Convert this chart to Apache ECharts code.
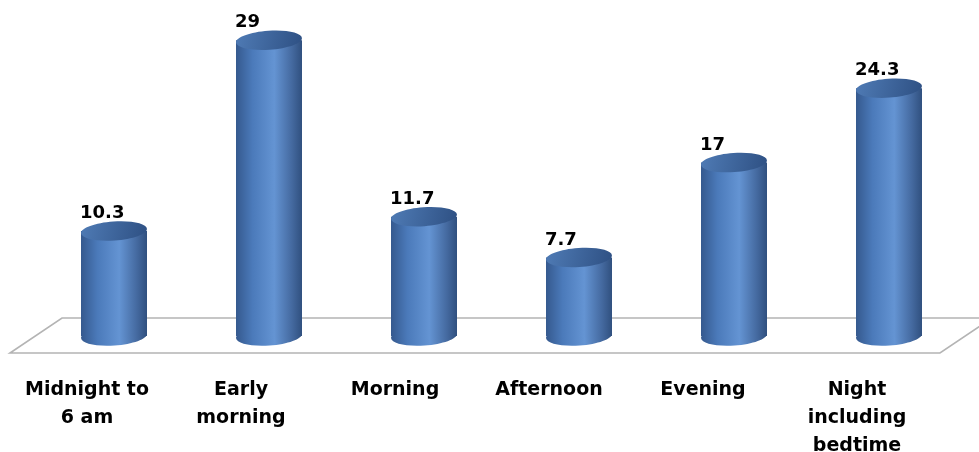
<!DOCTYPE html>
<html>
<head>
<meta charset="utf-8">
<style>
  html, body { margin: 0; padding: 0; background: #ffffff; }
  #chart { width: 979px; height: 452px; }
</style>
<script src="https://cdn.jsdelivr.net/npm/echarts@6/dist/echarts.min.js"></script>
</head>
<body>
<div id="chart"></div>
<script>
// Time of day periods and share (%) for each
const categories = ['Midnight to\n6 am', 'Early\nmorning', 'Morning', 'Afternoon', 'Evening', 'Night\nincluding\nbedtime'];
const values = [10.3, 29, 11.7, 7.7, 17, 24.3];

const chart = echarts.init(document.getElementById('chart'), null, { renderer: 'canvas' });

const FONT = '"DejaVu Sans", Verdana, sans-serif';
const BAR_W = 66;      // cylinder width in px
const CAP_RY = 9.5;    // half height of the elliptical caps
const SHIFT = 27;      // cylinders sit back on the floor, right of the label
const SPREAD = 1;      // slight perspective spread of the cylinders

const bodyFill = new echarts.graphic.LinearGradient(0, 0, 1, 0, [
  { offset: 0, color: '#35598e' },
  { offset: 0.25, color: '#4b7aba' },
  { offset: 0.58, color: '#6494d3' },
  { offset: 0.85, color: '#44699f' },
  { offset: 1, color: '#30507f' }
]);
const capFill = new echarts.graphic.LinearGradient(0, 0, 1, 1, [
  { offset: 0, color: '#4f7bb5' },
  { offset: 1, color: '#2e5083' }
]);

function renderCylinder(params, api) {
  const idx = api.value(0);
  const val = api.value(1);
  const top = api.coord([idx, val]);
  const base = api.coord([idx, 0]);
  const cx = top[0] + SHIFT + SPREAD * idx;
  const left = cx - BAR_W / 2;
  const tilt = 0.07;
  return {
    type: 'group',
    children: [
      {
        type: 'ellipse',
        shape: { cx: cx, cy: base[1], rx: BAR_W / 2, ry: CAP_RY },
        rotation: tilt, originX: cx, originY: base[1],
        style: { fill: bodyFill }
      },
      {
        type: 'rect',
        shape: { x: left, y: top[1], width: BAR_W, height: base[1] - top[1] },
        style: { fill: bodyFill }
      },
      {
        type: 'ellipse',
        shape: { cx: cx, cy: top[1], rx: BAR_W / 2, ry: CAP_RY },
        rotation: tilt, originX: cx, originY: top[1],
        style: { fill: capFill }
      },
      {
        type: 'text',
        x: left - 1,
        y: top[1] - CAP_RY + 1,
        style: {
          text: String(val),
          fill: '#000000',
          font: 'bold 18px ' + FONT,
          textAlign: 'left',
          textVerticalAlign: 'bottom'
        }
      }
    ]
  };
}

chart.setOption({
  backgroundColor: '#ffffff',
  animation: false,
  grid: { left: 10, right: 45, top: 30, bottom: 116, outerBoundsMode: 'none', containLabel: false },
  xAxis: {
    type: 'category',
    data: categories,
    axisLine: { show: false },
    axisTick: { show: false },
    axisLabel: {
      interval: 0,
      margin: 40,
      color: '#000000',
      fontFamily: FONT,
      fontWeight: 'bold',
      fontSize: 19,
      lineHeight: 28,
      align: 'center',
      verticalAlign: 'top'
    }
  },
  yAxis: {
    type: 'value',
    min: 0,
    max: 30,
    show: false,
    splitLine: { show: false }
  },
  series: [{
    type: 'custom',
    renderItem: renderCylinder,
    data: values.map((v, i) => [i, v]),
    z: 5
  }]
});

// Floor plane under the cylinders, laid out from the category axis
const c0 = chart.convertToPixel({ gridIndex: 0 }, [0, 0]);
const c1 = chart.convertToPixel({ gridIndex: 0 }, [1, 0]);
const cN = chart.convertToPixel({ gridIndex: 0 }, [categories.length - 1, 0]);
const band = c1[0] - c0[0];
const xL = c0[0] - band / 2;
const xR = cN[0] + band / 2 + 6;
const yFront = c0[1] + 17;
const yBack = c0[1] - 18;
const depth = 52;
chart.setOption({
  graphic: [{
    type: 'polygon',
    z: 1,
    silent: true,
    shape: { points: [[xL, yFront], [xR, yFront], [xR + depth, yBack], [xL + depth, yBack]] },
    style: { fill: '#ffffff', stroke: '#b4b4b4', lineWidth: 1.6 }
  }]
});
</script>
</body>
</html>
